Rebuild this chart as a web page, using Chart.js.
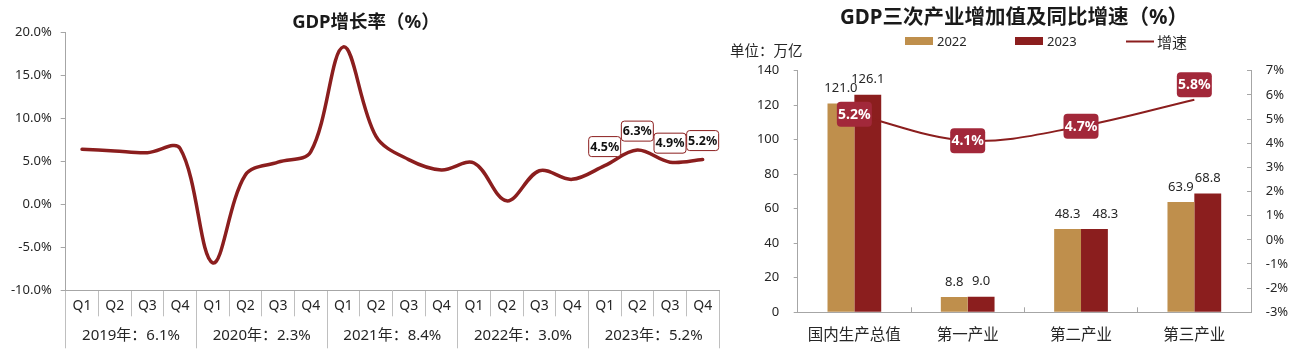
<!DOCTYPE html>
<html>
<head>
<meta charset="utf-8">
<script src="https://cdn.jsdelivr.net/npm/chart.js@4.4.1/dist/chart.umd.min.js"></script>
<style>
  html, body { margin: 0; padding: 0; background: #fff; }
  body { width: 1304px; height: 357px; position: relative; overflow: hidden;
         font-family: "Noto Sans", "Noto Sans CJK SC", sans-serif; color: #262626; }
  canvas { position: absolute; top: 0; }
  .ttl { position: absolute; font-weight: bold; white-space: nowrap; transform: translate(-50%, -50%); color: #1a1a1a; }
  .txt { position: absolute; white-space: nowrap; transform: translateY(-50%); }
  .lg { position: absolute; top: 41px; transform: translateY(-50%); display: flex; align-items: center; font-size: 13px; white-space: nowrap; }
  .sw { display: inline-block; width: 28px; height: 8px; margin-right: 4px; }
  .ln { display: inline-block; width: 28px; height: 2px; margin-right: 3px; }
</style>
</head>
<body>
<canvas id="c1" width="730" height="357" style="left:0;width:730px;height:357px"></canvas>
<canvas id="c2" width="574" height="357" style="left:730px;width:574px;height:357px"></canvas>
<div class="ttl" style="left:366px;top:20px;font-size:18.5px">GDP增长率（%）</div>
<div class="ttl" style="left:1014px;top:15px;font-size:20.5px">GDP三次产业增加值及同比增速（%）</div>
<div class="txt" style="left:730px;top:49px;font-size:14.5px">单位：万亿</div>
<div id="legend"></div>
<script>
// ---------- data: left chart ----------
const quarterLabels = ['Q1','Q2','Q3','Q4','Q1','Q2','Q3','Q4','Q1','Q2','Q3','Q4','Q1','Q2','Q3','Q4','Q1','Q2','Q3','Q4'];
const yearLabels = ['2019年：6.1%','2020年：2.3%','2021年：8.4%','2022年：3.0%','2023年：5.2%'];
const gdpGrowth = [6.4, 6.2, 6.0, 6.5, -6.8, 3.4, 4.9, 6.1, 18.3, 7.9, 5.2, 4.0, 4.8, 0.4, 3.9, 2.9, 4.5, 6.3, 4.9, 5.2];
const growthTicks = [-10, -5, 0, 5, 10, 15, 20];

// ---------- data: right chart ----------
const industries = ['国内生产总值', '第一产业', '第二产业', '第三产业'];
const value2022 = [121.0, 8.8, 48.3, 63.9];
const value2023 = [126.1, 9.0, 48.3, 68.8];
const growthRate = [5.2, 4.1, 4.7, 5.8];
const valueTicks = [0, 20, 40, 60, 80, 100, 120, 140];
const rateTicks = [-3, -2, -1, 0, 1, 2, 3, 4, 5, 6, 7];
const seriesNames = ['2022', '2023', '增速'];

const FONT = '"Noto Sans", "Noto Sans CJK SC", sans-serif';
const AXIS = '#a6a6a6';
const TXT = '#262626';
const DARKRED = '#8B1E1E';
const TAN = '#BF8F4C';

function roundRect(ctx, x, y, w, h, r) {
  ctx.beginPath();
  ctx.moveTo(x + r, y);
  ctx.lineTo(x + w - r, y);
  ctx.quadraticCurveTo(x + w, y, x + w, y + r);
  ctx.lineTo(x + w, y + h - r);
  ctx.quadraticCurveTo(x + w, y + h, x + w - r, y + h);
  ctx.lineTo(x + r, y + h);
  ctx.quadraticCurveTo(x, y + h, x, y + h - r);
  ctx.lineTo(x, y + r);
  ctx.quadraticCurveTo(x, y, x + r, y);
  ctx.closePath();
}

// labels for the last year's quarters on the left chart
const leftLabels = {
  id: 'leftLabels',
  afterDatasetsDraw(chart) {
    const ctx = chart.ctx;
    const meta = chart.getDatasetMeta(0);
    const data = chart.data.datasets[0].data;
    ctx.save();
    ctx.font = 'bold 12.5px ' + FONT;
    ctx.textAlign = 'center';
    ctx.textBaseline = 'middle';
    for (let i = data.length - 4; i < data.length; i++) {
      const p = meta.data[i];
      const cx = p.x, cy = p.y - 19;
      const w = 32, h = 20;
      roundRect(ctx, cx - w / 2, cy - h / 2, w, h, 3);
      ctx.fillStyle = '#fff';
      ctx.fill();
      ctx.lineWidth = 1;
      ctx.strokeStyle = DARKRED;
      ctx.stroke();
      ctx.fillStyle = '#111';
      ctx.fillText(data[i].toFixed(1) + '%', cx, cy + 0.5);
    }
    ctx.restore();
  }
};

new Chart(document.getElementById('c1'), {
  type: 'line',
  data: {
    labels: quarterLabels,
    datasets: [{
      label: 'GDP增长率',
      data: gdpGrowth,
      xAxisID: 'x',
      yAxisID: 'y',
      borderColor: DARKRED,
      borderWidth: 3.5,
      pointRadius: 0,
      tension: 0.35,
      fill: false,
      borderCapStyle: 'round',
      borderJoinStyle: 'round'
    }]
  },
  options: {
    responsive: false,
    animation: false,
    devicePixelRatio: 1,
    layout: { padding: { left: 0, right: 11, top: 32.3, bottom: 8.7 } },
    plugins: { legend: { display: false }, tooltip: { enabled: false }, title: { display: false } },
    scales: {
      y: {
        position: 'left',
        min: -10, max: 20,
        afterBuildTicks: s => { s.ticks = growthTicks.map(v => ({ value: v })); },
        ticks: { callback: v => v.toFixed(1) + '%', font: { size: 13, family: FONT }, color: TXT, padding: 9 },
        grid: { drawOnChartArea: false, tickLength: 5, color: AXIS },
        border: { color: AXIS },
        afterFit: s => { s.width = 65.7; }
      },
      x: {
        type: 'category',
        position: 'bottom',
        offset: true,
        grid: { offset: true, drawOnChartArea: false, tickLength: 26, color: '#bfbfbf' },
        border: { color: AXIS },
        ticks: { font: { size: 14, family: FONT }, color: TXT, padding: -19, maxRotation: 0, autoSkip: false },
        afterFit: s => { s.height = 26; }
      },
      x2: {
        type: 'category',
        position: 'bottom',
        labels: yearLabels,
        offset: true,
        grid: { offset: true, drawOnChartArea: false, tickLength: 32, color: '#bfbfbf' },
        border: { display: false },
        ticks: { font: { size: 15, family: FONT }, color: TXT, padding: -22, maxRotation: 0, autoSkip: false },
        afterFit: s => { s.height = 32; }
      }
    }
  },
  plugins: [leftLabels]
});

// value labels on bars and growth-rate boxes on the right chart
const rightLabels = {
  id: 'rightLabels',
  afterDatasetsDraw(chart) {
    const ctx = chart.ctx;
    ctx.save();
    ctx.textAlign = 'center';
    ctx.textBaseline = 'middle';
    ctx.font = '13px ' + FONT;
    ctx.fillStyle = TXT;
    const placed = {};
    chart.data.datasets.forEach((ds, di) => {
      const meta = chart.getDatasetMeta(di);
      if (ds.type === 'line') return;
      meta.data.forEach((bar, i) => {
        const txt = ds.data[i].toFixed(1);
        const w = ctx.measureText(txt).width;
        let x = bar.x;
        const y = bar.y - 15;
        const prev = placed[i];
        // nudge a label sideways when it would touch its neighbour at the same height
        if (prev && Math.abs(prev.y - y) < 5 && x - w / 2 < prev.right + 3) {
          x = prev.right + 12 + w / 2;
        }
        ctx.fillText(txt, x, y);
        placed[i] = { y, right: x + w / 2 };
      });
    });
    chart.data.datasets.forEach((ds, di) => {
      if (ds.type !== 'line') return;
      const meta = chart.getDatasetMeta(di);
      ctx.font = 'bold 14px ' + FONT;
      meta.data.forEach((pt, i) => {
        const last = i === ds.data.length - 1;
        const cx = pt.x, cy = last ? pt.y - 15 : pt.y;
        const w = 35, h = 25;
        roundRect(ctx, cx - w / 2, cy - h / 2, w, h, 4);
        ctx.fillStyle = '#A2283A';
        ctx.fill();
        ctx.fillStyle = '#fff';
        ctx.fillText(ds.data[i].toFixed(1) + '%', cx, cy + 0.5);
      });
    });
    ctx.restore();
  }
};

const rightChart = new Chart(document.getElementById('c2'), {
  type: 'bar',
  data: {
    labels: industries,
    datasets: [
      { type: 'line', label: seriesNames[2], data: growthRate, yAxisID: 'y1', borderColor: DARKRED,
        borderWidth: 2, pointRadius: 0, tension: 0.35, fill: false, order: 0 },
      { label: seriesNames[0], data: value2022, yAxisID: 'y', backgroundColor: TAN, order: 1,
        categoryPercentage: 0.474, barPercentage: 1 },
      { label: seriesNames[1], data: value2023, yAxisID: 'y', backgroundColor: DARKRED, order: 1,
        categoryPercentage: 0.474, barPercentage: 1 }
    ]
  },
  options: {
    responsive: false,
    animation: false,
    devicePixelRatio: 1,
    layout: { padding: { left: 0, right: 0, top: 70.7, bottom: 14.7 } },
    plugins: { legend: { display: false }, tooltip: { enabled: false }, title: { display: false } },
    scales: {
      x: {
        type: 'category',
        position: 'bottom',
        offset: true,
        grid: { offset: true, drawOnChartArea: false, tickLength: -5, color: AXIS },
        border: { color: AXIS },
        ticks: { font: { size: 15.5, family: FONT }, color: TXT, padding: 19, maxRotation: 0, autoSkip: false },
        afterFit: s => { s.height = 30; }
      },
      y: {
        position: 'left',
        min: 0, max: 140,
        afterBuildTicks: s => { s.ticks = valueTicks.map(v => ({ value: v })); },
        ticks: { font: { size: 13, family: FONT }, color: TXT, padding: 14.5 },
        grid: { drawOnChartArea: false, tickLength: 4, color: AXIS },
        border: { color: AXIS },
        afterFit: s => { s.width = 67.7; }
      },
      y1: {
        position: 'right',
        min: -3, max: 7,
        afterBuildTicks: s => { s.ticks = rateTicks.map(v => ({ value: v })); },
        ticks: { callback: v => v + '%', font: { size: 13, family: FONT }, color: TXT, padding: 18.7 },
        grid: { drawOnChartArea: false, tickLength: -4, color: AXIS },
        border: { color: AXIS },
        afterFit: s => { s.width = 53; }
      }
    }
  },
  plugins: [rightLabels]
});

// legend built from the chart's datasets
(function buildLegend() {
  const host = document.getElementById('legend');
  const ds = rightChart.data.datasets;
  const byName = n => ds.find(d => d.label === n);
  const lefts = [905, 1015, 1126];
  seriesNames.forEach((n, i) => {
    const d = byName(n);
    const item = document.createElement('div');
    item.className = 'lg';
    item.style.left = lefts[i] + 'px';
    const mark = document.createElement('span');
    if (d.type === 'line') {
      mark.className = 'ln';
      mark.style.background = d.borderColor;
      item.style.fontSize = '15px';
    } else {
      mark.className = 'sw';
      mark.style.background = d.backgroundColor;
    }
    item.appendChild(mark);
    item.appendChild(document.createTextNode(n));
    host.appendChild(item);
  });
})();
</script>
</body>
</html>
